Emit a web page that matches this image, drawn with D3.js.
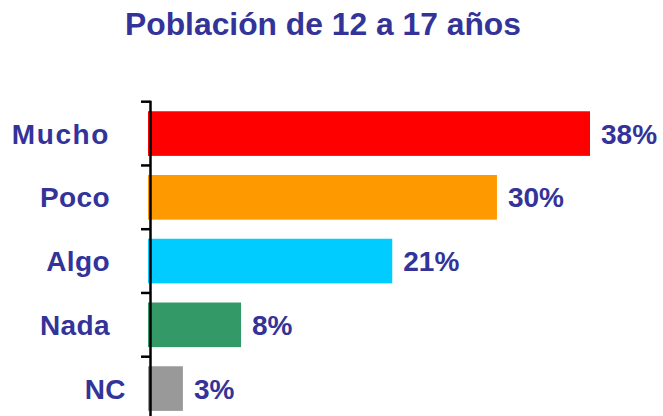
<!DOCTYPE html>
<html><head><meta charset="utf-8">
<script src="https://cdn.jsdelivr.net/npm/d3@7"></script>
<style>body{margin:0;background:#fff}svg{display:block}</style>
</head><body>
<script>
const title = "Población de 12 a 17 años";
const categories = ["Mucho","Poco","Algo","Nada","NC"];
const values = [38,30,21,8,3];
const valueLabels = ["38%","30%","21%","8%","3%"];
const colors = ["#FF0000","#FF9900","#00CCFF","#339966","#999999"];

const W=663,H=416;
const svg=d3.select("body").append("svg").attr("width",W).attr("height",H);
const font="'Liberation Sans', Arial, sans-serif";
const textColor="#333399";

const x=d3.scaleLinear().domain([0,38]).range([148,590]);
const y=d3.scaleBand().domain(categories).range([101.7,420.45]).paddingInner(0.3).paddingOuter(0.15);
const step=y.step();

svg.append("text").attr("x",323).attr("y",35).attr("text-anchor","middle")
  .attr("font-family",font).attr("font-weight","bold").attr("font-size",31.8)
  .attr("fill",textColor).text(title);

svg.selectAll("rect.bar").data(categories).join("rect").attr("class","bar")
  .attr("x",x(0)).attr("y",d=>y(d))
  .attr("width",(d,i)=>x(values[i])-x(0)).attr("height",y.bandwidth())
  .attr("fill",(d,i)=>colors[i]);

const axisX=150.5;
svg.append("line").attr("x1",axisX).attr("x2",axisX).attr("y1",y.range()[0]-1).attr("y2",H)
  .attr("stroke","#000").attr("stroke-width",2.5);
const tickYs=categories.map(d=>y(d)-step*y.paddingInner()/2);
svg.selectAll("line.tick").data(tickYs).join("line").attr("class","tick")
  .attr("x1",141).attr("x2",axisX).attr("y1",d=>d).attr("y2",d=>d)
  .attr("stroke","#000").attr("stroke-width",2.5);

svg.selectAll("text.cat").data(categories).join("text").attr("class","cat")
  .attr("x",(d,i)=>i===categories.length-1?126:110)
  .attr("y",d=>y(d)+y.bandwidth()/2).attr("dy","0.36em")
  .attr("text-anchor","end").attr("font-family",font).attr("font-weight","bold")
  .attr("font-size",28).attr("fill",textColor)
  .attr("letter-spacing",(d,i)=>i===0?"1.6px":"0.4px")
  .text(d=>d);

svg.selectAll("text.val").data(categories).join("text").attr("class","val")
  .attr("x",(d,i)=>x(values[i])+11)
  .attr("y",d=>y(d)+y.bandwidth()/2).attr("dy","0.36em")
  .attr("font-family",font).attr("font-weight","bold")
  .attr("font-size",28).attr("fill",textColor)
  .text((d,i)=>valueLabels[i]);
</script>
</body></html>
